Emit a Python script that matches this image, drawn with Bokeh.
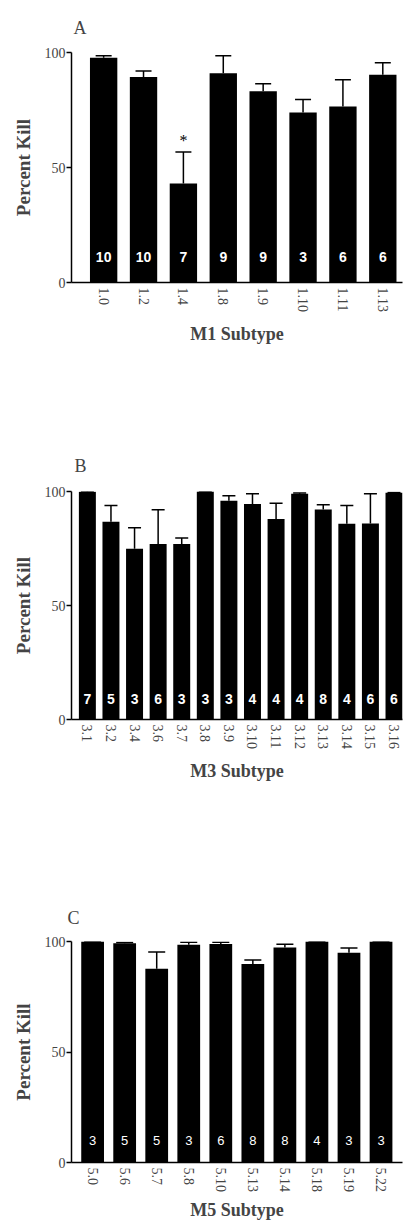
from bokeh.plotting import figure
from bokeh.models import (ColumnDataSource, Range1d, FixedTicker, Whisker, TeeHead)
from bokeh.layouts import column
from bokeh.core.properties import value
from bokeh.embed import file_html
from bokeh.resources import INLINE

# ---------------- data ----------------
m1_subtypes = ["1.0", "1.2", "1.4", "1.8", "1.9", "1.10", "1.11", "1.13"]
m1_kill = [97.7, 89.3, 43.0, 91.0, 83.2, 73.9, 76.5, 90.3]
m1_err = [0.9, 2.7, 13.7, 7.6, 3.2, 5.7, 11.6, 5.2]
m1_n = ["10", "10", "7", "9", "9", "3", "6", "6"]
m1_signif = ["", "", "*", "", "", "", "", ""]

m3_subtypes = ["3.1", "3.2", "3.4", "3.6", "3.7", "3.8", "3.9", "3.10",
               "3.11", "3.12", "3.13", "3.14", "3.15", "3.16"]
m3_kill = [99.9, 86.7, 74.9, 77.0, 77.0, 100.0, 95.9, 94.5,
           87.9, 99.0, 92.1, 85.9, 86.0, 99.4]
m3_err = [0.1, 7.2, 9.2, 15.0, 2.6, 0.0, 2.2, 4.5,
          7.0, 0.3, 2.1, 8.0, 13.0, 0.2]
m3_n = ["7", "5", "3", "6", "3", "3", "3", "4", "4", "4", "8", "4", "6", "6"]

m5_subtypes = ["5.0", "5.6", "5.7", "5.8", "5.10", "5.13", "5.14", "5.18", "5.19", "5.22"]
m5_kill = [100.0, 99.2, 87.7, 98.5, 98.9, 89.8, 97.3, 100.0, 94.9, 100.0]
m5_err = [0.0, 0.3, 7.5, 1.2, 0.8, 1.8, 1.5, 0.0, 2.2, 0.0]
m5_n = ["3", "5", "5", "3", "6", "8", "8", "4", "3", "3"]

y_ticks = [0, 50, 100]

SERIF = "Liberation Serif"
SANS = "Liberation Sans"
W = 411


def panel(letter, subtypes, kill, err, ns, xlabel, *, height, top, bottom,
          left, right, x_start, x_end, bar_w, cap, n_y, n_size, n_style,
          title_offset, title_standoff, xlabel_standoff=9, signif=None):
    idx = list(range(len(subtypes)))
    src = ColumnDataSource(dict(
        x=idx, top=kill, upper=[k + e for k, e in zip(kill, err)], n=ns))
    p = figure(width=W, height=height, output_backend="svg",
               toolbar_location=None, x_range=Range1d(x_start, x_end),
               y_range=Range1d(0, 100),
               min_border_top=top, min_border_bottom=bottom,
               min_border_left=left, min_border_right=right)
    p.outline_line_color = None
    p.grid.visible = False
    p.background_fill_color = "white"

    p.vbar(x="x", top="top", width=bar_w, bottom=0, source=src,
           fill_color="black", line_color=None)
    p.add_layout(Whisker(base="x", lower="top", upper="upper", source=src,
                         dimension="height", line_color="black", line_width=1.5,
                         lower_head=None,
                         upper_head=TeeHead(size=cap, line_width=1.5,
                                            line_color="black")))
    p.text(x="x", y=n_y, text="n", source=src, text_color="white",
           text_font=value(SANS), text_font_size=n_size,
           text_font_style=n_style, text_align="center",
           text_baseline="middle")
    if signif is not None:
        sx = [i for i, s in enumerate(signif) if s]
        sy = [kill[i] + err[i] + 5 for i in sx]
        st = [signif[i] for i in sx]
        p.text(x=sx, y=sy, text=st, text_color="black",
               text_font=value(SERIF), text_font_size="16px",
               text_align="center", text_baseline="middle")

    # x axis
    xa = p.xaxis[0]
    xa.ticker = FixedTicker(ticks=idx)
    xa.major_label_overrides = {i: s for i, s in zip(idx, subtypes)}
    xa.major_label_orientation = "vertical"
    xa.major_label_text_font = SERIF
    xa.major_label_text_font_size = "14px"
    xa.major_label_standoff = 5
    xa.major_tick_out = 0
    xa.major_tick_in = 0
    xa.major_tick_line_color = None
    xa.minor_tick_line_color = None
    xa.axis_line_width = 1.5
    xa.axis_label = xlabel
    xa.axis_label_text_font = SERIF
    xa.axis_label_text_font_size = "18px"
    xa.axis_label_text_font_style = "bold"
    xa.axis_label_standoff = xlabel_standoff

    # y axis
    ya = p.yaxis[0]
    ya.ticker = FixedTicker(ticks=y_ticks)
    ya.major_label_text_font = SERIF
    ya.major_label_text_font_size = "14px"
    ya.major_label_standoff = 1
    ya.major_tick_out = 5
    ya.major_tick_in = 0
    ya.major_tick_line_width = 1.5
    ya.minor_tick_line_color = None
    ya.axis_line_width = 1.5
    ya.axis_label = "Percent Kill"
    ya.axis_label_text_font = SERIF
    ya.axis_label_text_font_size = "19px"
    ya.axis_label_text_font_style = "bold"
    ya.axis_label_standoff = 8

    p.title.text = letter
    p.title.text_font = SERIF
    p.title.text_font_size = "18px"
    p.title.text_font_style = "normal"
    p.title.align = "left"
    p.title.offset = title_offset
    p.title.standoff = title_standoff
    return p


pa = panel("A", m1_subtypes, m1_kill, m1_err, m1_n, "M1 Subtype",
           height=400, top=52, bottom=118, left=66, right=0,
           x_start=-0.806, x_end=7.494, bar_w=0.686, cap=16,
           n_y=11, n_size="14px", n_style="bold", title_offset=2,
           title_standoff=29, signif=m1_signif)
pb = panel("B", m3_subtypes, m3_kill, m3_err, m3_n, "M3 Subtype",
           height=400, top=91, bottom=81, left=71, right=0,
           x_start=-0.673, x_end=13.36, bar_w=0.72, cap=13,
           n_y=9, n_size="14px", n_style="bold", title_offset=3,
           title_standoff=31)
pc = panel("C", m5_subtypes, m5_kill, m5_err, m5_n, "M5 Subtype",
           height=423, top=141, bottom=60, left=68, right=9,
           x_start=-0.659, x_end=9.67, bar_w=0.71, cap=17,
           n_y=10, n_size="13px", n_style="normal", title_offset=-4,
           title_standoff=27, xlabel_standoff=5)

layout = column(pa, pb, pc, spacing=0)
open("out.html", "w").write(file_html(layout, INLINE))
